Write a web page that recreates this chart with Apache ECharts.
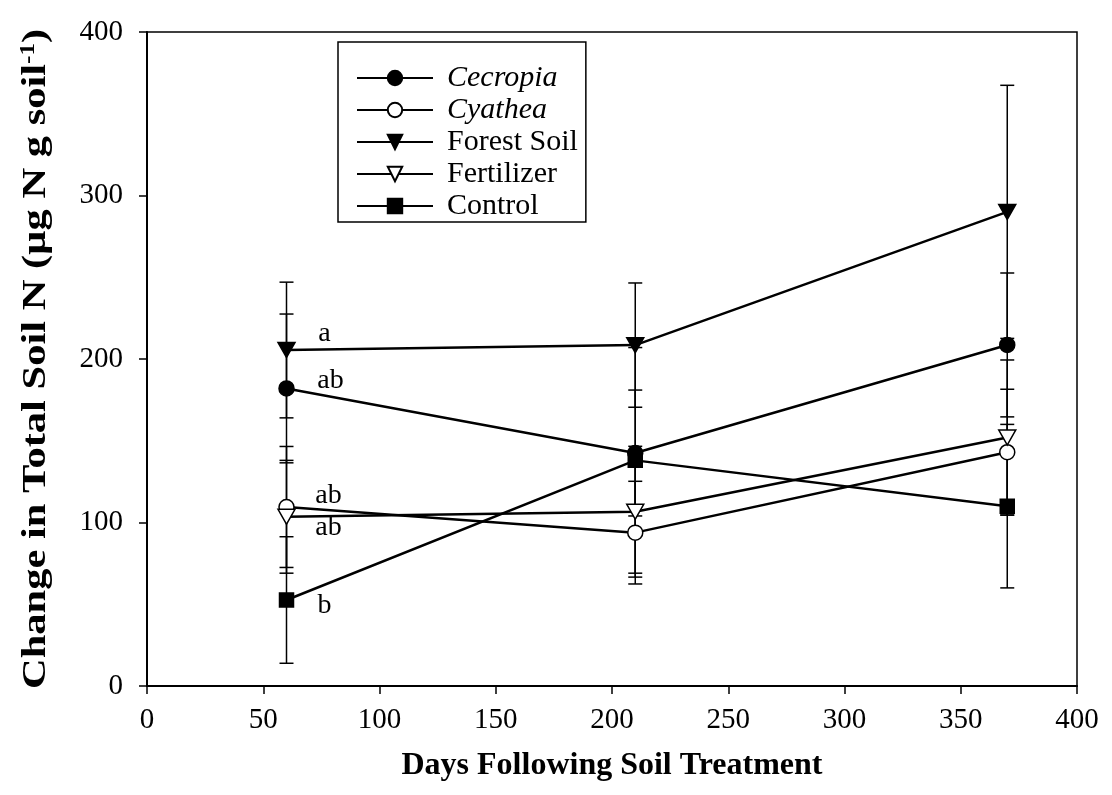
<!DOCTYPE html>
<html>
<head>
<meta charset="utf-8">
<script src="https://cdn.jsdelivr.net/npm/echarts@6/dist/echarts.min.js"></script>
<style>
  html, body { margin: 0; padding: 0; background: #fff; }
  #chart { width: 1112px; height: 795px; }
</style>
</head>
<body>
<div id="chart"></div>
<script>
// Sampling days after treatment
const days = [60, 210, 370];

// Change in total soil N (µg N g soil-1) and error half-widths per treatment
const cecropia      = [182, 142.5, 208.6];
const cecropiaErr   = [45.5, 38.5, 44];
const cyathea       = [109.5, 93.8, 143];
const cyatheaErr    = [37, 31.4, 38.5];
const forestSoil    = [205.5, 208.5, 290];
const forestSoilErr = [41.5, 38, 77.4];
const fertilizer    = [103.5, 106.6, 152];
const fertilizerErr = [34.5, 40, 47.4];
const control       = [52.6, 138, 110];
const controlErr    = [38.7, 69, 50];

// Significance letters for the first sampling date
const letters = ['ab', 'ab', 'a', 'ab', 'b'];

const xTicks = [0, 50, 100, 150, 200, 250, 300, 350, 400];
const yTicks = [0, 100, 200, 300, 400];

const FONT = '"Liberation Serif", "Times New Roman", serif';
const downTri = 'path://M0,0 L20,0 L10,18 Z';

const treatments = [
  { name: 'Cecropia',    vals: cecropia,   errs: cecropiaErr,   symbol: 'circle', size: 15, fill: '#000', italic: true,  letterOffset: [44, -8] },
  { name: 'Cyathea',     vals: cyathea,    errs: cyatheaErr,    symbol: 'circle', size: 15, fill: '#fff', italic: true,  letterOffset: [42, -11] },
  { name: 'Forest Soil', vals: forestSoil, errs: forestSoilErr, symbol: downTri,  size: [17, 15], fill: '#000', italic: false, letterOffset: [38, -16] },
  { name: 'Fertilizer',  vals: fertilizer, errs: fertilizerErr, symbol: downTri,  size: [17, 15], fill: '#fff', italic: false, letterOffset: [42, 11] },
  { name: 'Control',     vals: control,    errs: controlErr,    symbol: 'rect',   size: 14, fill: '#000', italic: false, letterOffset: [38, 6] }
];

const series = [];

// Error bars (drawn beneath lines and markers)
treatments.forEach(t => {
  series.push({
    type: 'custom',
    name: t.name + ' error',
    z: 1,
    silent: true,
    data: days.map((d, i) => [d, t.vals[i], t.errs[i]]),
    renderItem: function (params, api) {
      const x = api.value(0), y = api.value(1), e = api.value(2);
      const top = api.coord([x, y + e]);
      const bot = api.coord([x, y - e]);
      const cap = 7;
      const style = { stroke: '#000', lineWidth: 1.5 };
      return {
        type: 'group',
        children: [
          { type: 'line', shape: { x1: top[0], y1: top[1], x2: bot[0], y2: bot[1] }, style: style },
          { type: 'line', shape: { x1: top[0] - cap, y1: top[1], x2: top[0] + cap, y2: top[1] }, style: style },
          { type: 'line', shape: { x1: bot[0] - cap, y1: bot[1], x2: bot[0] + cap, y2: bot[1] }, style: style }
        ]
      };
    }
  });
});

// Treatment lines with markers
treatments.forEach((t, ti) => {
  series.push({
    type: 'line',
    name: t.name,
    z: 3,
    symbol: t.symbol,
    symbolSize: t.size,
    showAllSymbol: true,
    lineStyle: { color: '#000', width: 2.5 },
    itemStyle: { color: t.fill, borderColor: '#000', borderWidth: 1.5 },
    emphasis: { disabled: true },
    data: days.map((d, i) => {
      const item = { value: [d, t.vals[i]] };
      if (i === 0) {
        item.label = {
          show: true,
          formatter: letters[ti],
          position: 'inside',
          offset: t.letterOffset,
          color: '#000',
          fontFamily: FONT,
          fontSize: 28
        };
      }
      return item;
    })
  });
});

const chart = echarts.init(document.getElementById('chart'), null, { renderer: 'canvas' });

chart.setOption({
  backgroundColor: '#fff',
  animation: false,
  grid: {
    left: 147, right: 35, top: 32, bottom: 109,
    show: true, borderColor: '#000', borderWidth: 1.5, backgroundColor: 'transparent'
  },
  legend: {
    left: 338, top: 42,
    orient: 'vertical',
    data: treatments.map(t => t.name),
    itemWidth: 76, itemHeight: 18,
    itemGap: 2,
    padding: [21, 8, 1, 18],
    borderColor: '#000', borderWidth: 1.5,
    backgroundColor: '#fff',
    selectedMode: false,
    formatter: function (name) {
      const t = treatments.find(o => o.name === name);
      return t.italic ? '{it|' + name + '}' : '{rm|' + name + '}';
    },
    textStyle: {
      color: '#000',
      padding: [0, 0, 0, 9],
      rich: {
        it: { fontFamily: FONT, fontSize: 30, fontStyle: 'italic', color: '#000' },
        rm: { fontFamily: FONT, fontSize: 30, color: '#000' }
      }
    }
  },
  // Vertical axis title, set as free text so its length spans the plot height
  graphic: [{
    type: 'text',
    x: 36, y: 359,
    rotation: Math.PI / 2,
    scaleX: 1.25,
    silent: true,
    style: {
      text: '{b|Change in Total Soil N (µg N g soil}{sup|-1}{b|)}',
      align: 'center',
      verticalAlign: 'middle',
      fill: '#000',
      rich: {
        b: { fontFamily: FONT, fontSize: 34, fontWeight: 'bold', fill: '#000' },
        sup: { fontFamily: FONT, fontSize: 20, fontWeight: 'bold', fill: '#000', verticalAlign: 'top', padding: [0, 0, 14, 0] }
      }
    }
  }],
  xAxis: {
    type: 'value',
    min: 0, max: 400, interval: 50,
    name: 'Days Following Soil Treatment',
    nameLocation: 'middle',
    nameGap: 64,
    nameTextStyle: { fontFamily: FONT, fontSize: 32, fontWeight: 'bold', color: '#000' },
    axisLine: { show: true, onZero: false, lineStyle: { color: '#000', width: 2 } },
    axisTick: { show: true, inside: false, length: 8, lineStyle: { color: '#000', width: 1.5 } },
    axisLabel: {
      margin: 20, color: '#000', fontFamily: FONT, fontSize: 29,
      formatter: v => (xTicks.indexOf(v) >= 0 ? String(v) : '')
    },
    splitLine: { show: false }
  },
  yAxis: {
    type: 'value',
    min: 0, max: 400, interval: 100,
    axisLine: { show: true, onZero: false, lineStyle: { color: '#000', width: 2 } },
    axisTick: { show: true, inside: false, length: 8, lineStyle: { color: '#000', width: 1.5 } },
    axisLabel: {
      margin: 24, color: '#000', fontFamily: FONT, fontSize: 29,
      formatter: v => (yTicks.indexOf(v) >= 0 ? String(v) : '')
    },
    splitLine: { show: false }
  },
  series: series
});
</script>
</body>
</html>
